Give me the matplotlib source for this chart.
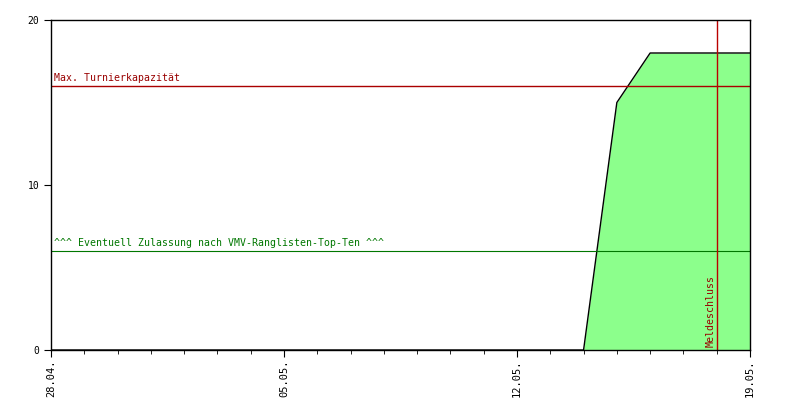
import matplotlib
matplotlib.use("Agg")
import matplotlib.pyplot as plt
import matplotlib.dates as mdates
import pandas as pd

# registrations per day
dates = pd.date_range("2024-04-28", "2024-05-19", freq="D")
entries = [0, 0, 0, 0, 0, 0, 0, 0, 0, 0, 0, 0, 0, 0, 0, 0, 0,
           15, 18, 18, 18, 18]

max_capacity = 16
topten_limit = 6
deadline = pd.Timestamp("2024-05-18")
tick_dates = pd.to_datetime(["2024-04-28", "2024-05-05", "2024-05-12", "2024-05-19"])

plt.rcParams['font.family'] = 'DejaVu Sans Mono'

fig = plt.figure(figsize=(8, 4), dpi=100)
ax = fig.add_axes([0.06375, 0.125, 0.87375, 0.825])

ax.fill_between(dates, entries, 0, color='#8cff8c', linewidth=0)
ax.plot(dates, entries, color='black', linewidth=1)

ax.axhline(max_capacity, color='#aa0000', linewidth=1)
ax.text(dates[0] + pd.Timedelta(hours=2), max_capacity + 0.2, "Max. Turnierkapazität",
        color='#990000', fontsize=7.1, ha='left', va='bottom')

ax.axhline(topten_limit, color='#007700', linewidth=0.8)
ax.text(dates[0] + pd.Timedelta(hours=2), topten_limit + 0.2,
        "^^^ Eventuell Zulassung nach VMV-Ranglisten-Top-Ten ^^^",
        color='#007700', fontsize=7.1, ha='left', va='bottom')

ax.axvline(deadline, color='#bb0000', linewidth=1)
ax.text(deadline - pd.Timedelta(hours=1), 0.2, "Meldeschluss", color='#990000',
        fontsize=7.1, rotation=90, ha='right', va='bottom')

ax.set_xlim(dates[0], dates[-1])
ax.set_ylim(0, 20)
ax.set_yticks([0, 10, 20])
ax.set_xticks(tick_dates)
ax.xaxis.set_major_formatter(mdates.DateFormatter('%d.%m.'))
ax.xaxis.set_minor_locator(mdates.DayLocator())
ax.tick_params(axis='x', which='major', length=5, labelsize=7.5, rotation=90, pad=2)
ax.tick_params(axis='x', which='minor', length=3)
ax.tick_params(axis='y', length=5, labelsize=7)

for s in ax.spines.values():
    s.set_linewidth(1)

fig.savefig("out.png", dpi=100)
